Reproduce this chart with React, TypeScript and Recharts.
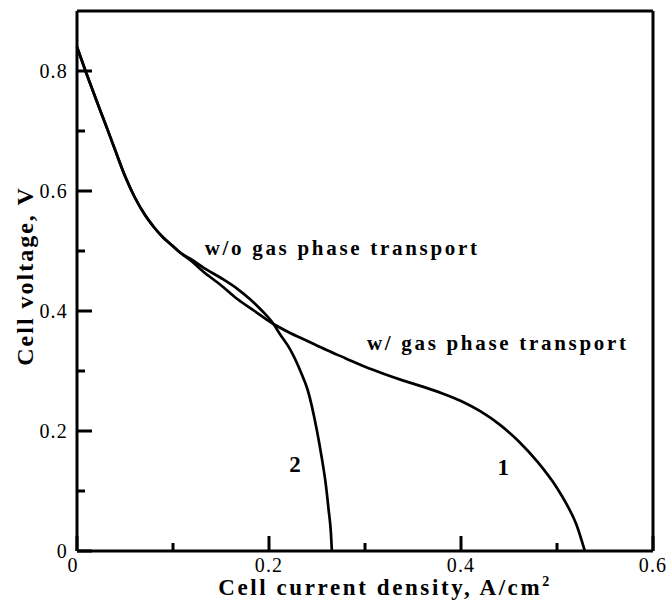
import { LineChart, Line, XAxis, YAxis, ReferenceLine, ReferenceDot } from "recharts";

// curve 1: with gas phase transport
const withGasI = [0, 0.01, 0.02, 0.03, 0.04, 0.05, 0.06, 0.07, 0.08, 0.09, 0.1, 0.107, 0.12, 0.132, 0.15, 0.167, 0.185, 0.203, 0.22, 0.24, 0.26, 0.28, 0.3, 0.32, 0.34, 0.36, 0.38, 0.4, 0.42, 0.44, 0.46, 0.48, 0.5, 0.51, 0.52, 0.529];
const withGasV = [0.84, 0.795, 0.752, 0.71, 0.667, 0.625, 0.59, 0.562, 0.54, 0.522, 0.508, 0.498, 0.482, 0.465, 0.443, 0.42, 0.4, 0.38, 0.365, 0.35, 0.335, 0.321, 0.307, 0.295, 0.284, 0.274, 0.263, 0.25, 0.233, 0.211, 0.183, 0.148, 0.105, 0.078, 0.045, 0];

// curve 2: without gas phase transport
const noGasI = [0, 0.01, 0.02, 0.03, 0.04, 0.05, 0.06, 0.07, 0.08, 0.09, 0.1, 0.107, 0.12, 0.132, 0.15, 0.167, 0.18, 0.193, 0.203, 0.212, 0.222, 0.234, 0.24, 0.25, 0.255, 0.259, 0.262, 0.2645, 0.2655];
const noGasV = [0.84, 0.795, 0.752, 0.71, 0.667, 0.625, 0.59, 0.562, 0.54, 0.522, 0.508, 0.498, 0.485, 0.472, 0.455, 0.437, 0.42, 0.4, 0.382, 0.36, 0.336, 0.295, 0.27, 0.2, 0.155, 0.113, 0.07, 0.03, 0];

const xTicks = [0, 0.1, 0.2, 0.3, 0.4, 0.5, 0.6];
const yTicks = [0, 0.1, 0.2, 0.3, 0.4, 0.5, 0.6, 0.7, 0.8];

const noteX = [0.133, 0.302, 0.444, 0.227];
const noteY = [0.493, 0.335, 0.127, 0.132];
const noteText = ["w/o gas phase transport", "w/ gas phase transport", "1", "2"];

const withGas = withGasI.map((i, k) => ({ i, v: withGasV[k] }));
const noGas = noGasI.map((i, k) => ({ i, v: noGasV[k] }));

const serif = "'Liberation Serif', 'Times New Roman', serif";

const isMajor = (v: number) => Math.round(v * 10) % 2 === 0;
const fmt = (v: number) => (v === 0 ? "0" : v.toFixed(1));

function yTick(props: any) {
  const x = Number(props.x);
  const y = Math.round(Number(props.y));
  const major = isMajor(props.payload.value);
  const len = major ? 15 : 8;
  return (
    <g>
      <path d={`M${x},${y}L${x + len},${y}`} stroke="#000" strokeWidth={3} fill="none" />
      {major && (
        <text x={x - 9} y={y} dy="0.35em" textAnchor="end" fontFamily={serif} fontSize={20} letterSpacing={1.2} fill="#000">
          {fmt(props.payload.value)}
        </text>
      )}
    </g>
  );
}

function xTick(props: any) {
  const x = Math.round(Number(props.x));
  const y = Number(props.y);
  const major = isMajor(props.payload.value);
  const len = major ? 15 : 8;
  return (
    <g>
      <path d={`M${x},${y}L${x},${y - len}`} stroke="#000" strokeWidth={3} fill="none" />
      {major && (
        <text x={props.payload.value === 0 ? x - 4 : x} y={y + 21} textAnchor="middle" fontFamily={serif} fontSize={20} letterSpacing={1.2} fill="#000">
          {fmt(props.payload.value)}
        </text>
      )}
    </g>
  );
}

function noteLabel(text: string) {
  return ({ viewBox }: any) => {
    const cx = viewBox.x + viewBox.width / 2;
    const cy = viewBox.y + viewBox.height / 2;
    const short = text.length < 3;
    return (
      <text
        x={cx}
        y={cy}
        textAnchor={short ? "middle" : "start"}
        fontFamily={serif}
        fontWeight="bold"
        fontSize={short ? 23 : 21}
        letterSpacing={short ? 0 : 2.7}
        fill="#000"
      >
        {text}
      </text>
    );
  };
}

export default function App() {
  return (
    <div style={{ position: "absolute", left: 0, top: 0, background: "#fff" }}>
      <LineChart width={666} height={600} margin={{ top: 11, right: 13, left: 0, bottom: 0 }}>
        <XAxis
          type="number"
          dataKey="i"
          domain={[0, 0.6]}
          ticks={xTicks}
          allowDataOverflow
          height={49}
          tickSize={0}
          tickMargin={0}
          tickLine={false}
          axisLine={{ stroke: "#000", strokeWidth: 3 }}
          tick={xTick}
          interval={0}
          label={{
            content: () => (
              <text x={385} y={595} textAnchor="middle" fontFamily={serif} fontWeight="bold" fontSize={23} letterSpacing={2.6} fill="#000">
                Cell current density, A/cm
                <tspan dy={-9} fontSize={14}>2</tspan>
              </text>
            ),
          }}
        />
        <YAxis
          type="number"
          dataKey="v"
          domain={[0, 0.9]}
          ticks={yTicks}
          allowDataOverflow
          width={77}
          tickSize={0}
          tickMargin={0}
          tickLine={false}
          axisLine={{ stroke: "#000", strokeWidth: 3 }}
          tick={yTick}
          interval={0}
          label={{
            content: () => (
              <text
                x={25}
                y={276}
                transform="rotate(-90, 25, 276)"
                textAnchor="middle"
                dominantBaseline="central"
                fontFamily={serif}
                fontWeight="bold"
                fontSize={24}
                letterSpacing={2}
                fill="#000"
              >
                Cell voltage, V
              </text>
            ),
          }}
        />
        <ReferenceLine y={0.9} stroke="#000" strokeWidth={3} />
        <ReferenceLine x={0.6} stroke="#000" strokeWidth={3} />
        <Line
          data={withGas}
          dataKey="v"
          type="monotone"
          stroke="#000"
          strokeWidth={2.7}
          dot={false}
          isAnimationActive={false}
        />
        <Line
          data={noGas}
          dataKey="v"
          type="monotone"
          stroke="#000"
          strokeWidth={2.7}
          dot={false}
          isAnimationActive={false}
        />
        {noteText.map((t, k) => (
          <ReferenceDot
            key={t}
            x={noteX[k]}
            y={noteY[k]}
            r={1}
            fill="none"
            stroke="none"
            label={{ content: noteLabel(t) }}
          />
        ))}
      </LineChart>
    </div>
  );
}
